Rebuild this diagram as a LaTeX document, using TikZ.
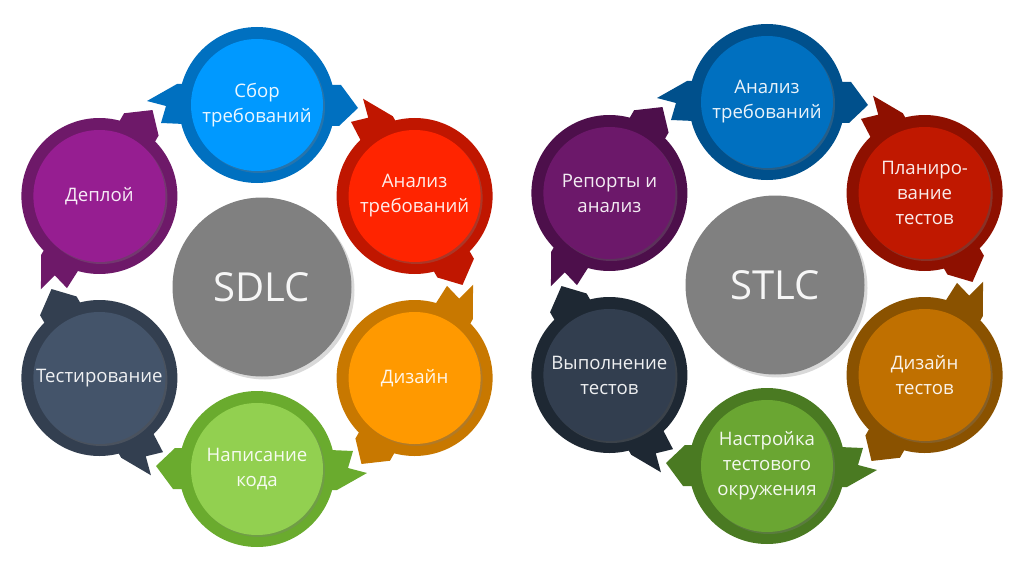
\documentclass[tikz,border=0pt]{standalone}
\usepackage{fontspec}
\setmainfont{Open Sans}
\usetikzlibrary{shadows}

% left (SDLC)
\definecolor{lBlueR}{RGB}{0,112,192}\definecolor{lBlueC}{RGB}{0,153,255}
\definecolor{lRedR}{RGB}{192,22,0}\definecolor{lRedC}{RGB}{255,36,0}
\definecolor{lOrR}{RGB}{200,120,0}\definecolor{lOrC}{RGB}{255,153,0}
\definecolor{lGrR}{RGB}{106,171,46}\definecolor{lGrC}{RGB}{146,208,80}
\definecolor{lSlR}{RGB}{51,63,80}\definecolor{lSlC}{RGB}{68,84,106}
\definecolor{lPuR}{RGB}{110,25,105}\definecolor{lPuC}{RGB}{150,30,145}
% right (STLC)
\definecolor{rBlueR}{RGB}{0,80,140}\definecolor{rBlueC}{RGB}{0,112,192}
\definecolor{rRedR}{RGB}{142,16,0}\definecolor{rRedC}{RGB}{192,24,0}
\definecolor{rOrR}{RGB}{138,82,0}\definecolor{rOrC}{RGB}{192,112,0}
\definecolor{rGrR}{RGB}{74,122,34}\definecolor{rGrC}{RGB}{106,166,50}
\definecolor{rSlR}{RGB}{30,40,51}\definecolor{rSlC}{RGB}{50,62,79}
\definecolor{rPuR}{RGB}{77,15,75}\definecolor{rPuC}{RGB}{108,24,106}
\definecolor{hubgray}{RGB}{128,128,128}

\tikzset{
  ringnode/.style={circle, minimum size=156pt, inner sep=0pt},
  corenode/.style={circle, minimum size=132pt, inner sep=0pt, text=white,
    text opacity=0.92, align=center, font=\fontsize{18.6}{25}\selectfont,
    drop shadow={shadow xshift=2pt, shadow yshift=-2pt, opacity=0.3}},
  hubnode/.style={circle, minimum size=179pt, inner sep=0pt, fill=hubgray,
    text=white!93!gray, font=\fontsize{40}{44}\selectfont,
    drop shadow={shadow xshift=3pt, shadow yshift=-3pt, opacity=0.3}},
}

\newcommand\cyclestage[7]{%
  \begin{scope}[shift={(#2,#3)}, rotate=#4-90]
    \fill[#5] (50,20) -- (84,20) -- (101,-3) -- (82,-21) -- (50,-21) -- cycle;
    \fill[#5] (-50,21) -- (-80,21) -- (-110,4) -- (-91,-1) -- (-96,-18) -- (-50,-20) -- cycle;
  \end{scope}
  \node[ringnode, fill=#5] (#1) at (#2,#3) {};
  \node[corenode, fill=#6] (#1c) at (#2,#3) {#7};
}

\begin{document}
\begin{tikzpicture}[x=1pt, y=1pt]
\useasboundingbox (0,-575) rectangle (1017,0);

% ---- SDLC ----
\node[hubnode] (sdlc) at (262,-287) {SDLC};
\cyclestage{lA}{257}{-105}{90}{lBlueR}{lBlueC}{Сбор\\требований}
\cyclestage{lB}{414.6}{-196}{30}{lRedR}{lRedC}{Анализ\\требований}
\cyclestage{lC}{414.6}{-378}{-30}{lOrR}{lOrC}{Дизайн}
\cyclestage{lD}{257}{-469}{-90}{lGrR}{lGrC}{Написание\\кода}
\cyclestage{lE}{99.4}{-378}{-150}{lSlR}{lSlC}{Тестирование}
\cyclestage{lF}{99.4}{-196}{150}{lPuR}{lPuC}{Деплой}

% ---- STLC ----
\node[hubnode] (stlc) at (775,-285) {STLC};
\cyclestage{rA}{767}{-102}{90}{rBlueR}{rBlueC}{Анализ\\требований}
\cyclestage{rB}{924.6}{-193}{30}{rRedR}{rRedC}{Планиро-\\вание\\тестов}
\cyclestage{rC}{924.6}{-375}{-30}{rOrR}{rOrC}{Дизайн\\тестов}
\cyclestage{rD}{767}{-466}{-90}{rGrR}{rGrC}{Настройка\\тестового\\окружения}
\cyclestage{rE}{609.4}{-375}{-150}{rSlR}{rSlC}{Выполнение\\тестов}
\cyclestage{rF}{609.4}{-193}{150}{rPuR}{rPuC}{Репорты и\\анализ}
\end{tikzpicture}
\end{document}
